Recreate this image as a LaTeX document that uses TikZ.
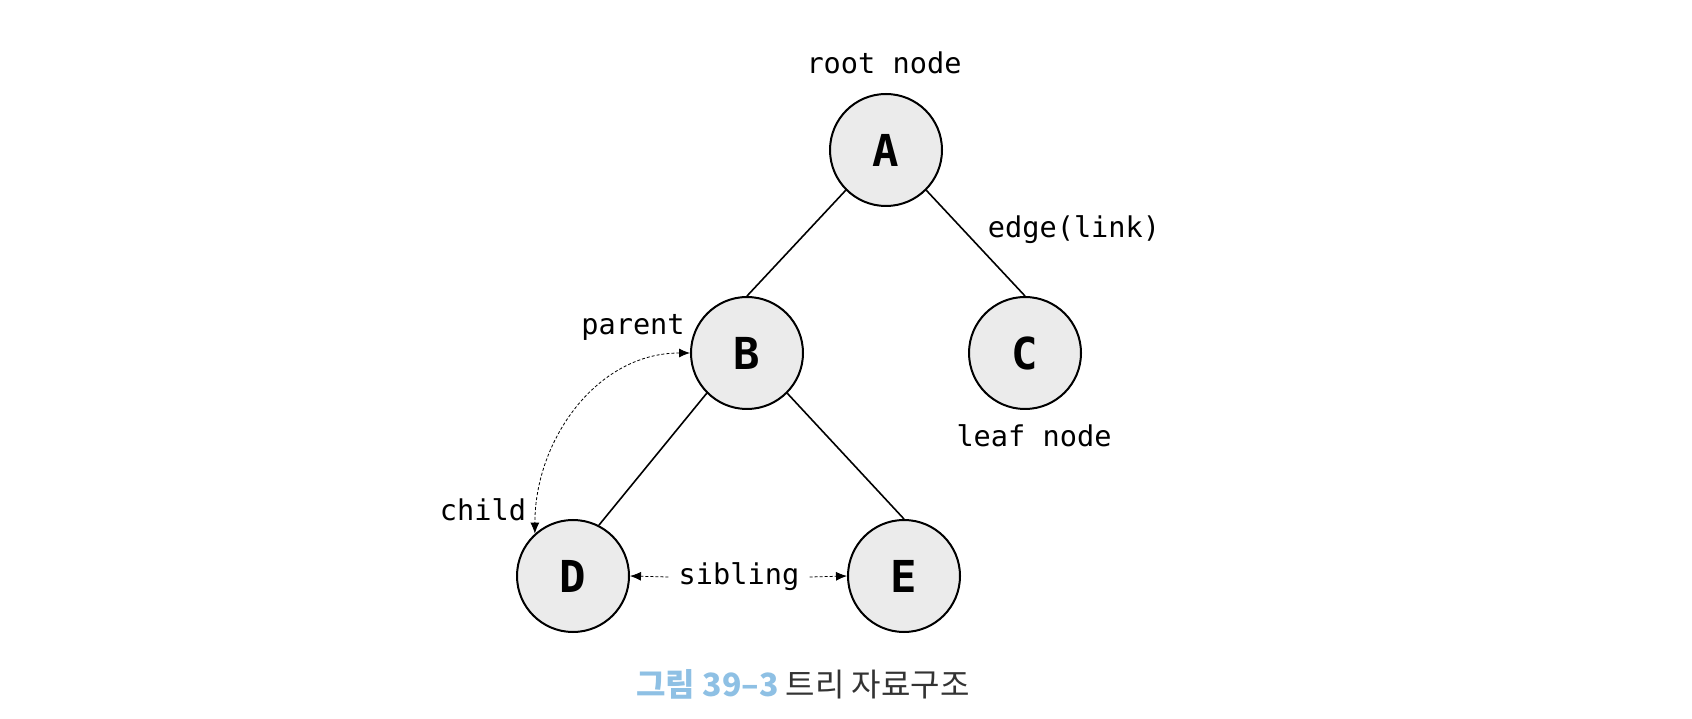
\documentclass[tikz,border=0pt]{standalone}
\usepackage{fontspec}
\setmonofont{DejaVu Sans Mono}
\newfontfamily\cjk{Noto Sans CJK KR}
\usepackage{tikz}
\usetikzlibrary{arrows.meta,positioning}
\definecolor{nodefill}{HTML}{EBEBEB}
\definecolor{capblue}{HTML}{8EC0E4}
\definecolor{capgray}{HTML}{333333}

\tikzset{
  treenode/.style={circle, draw, line width=1pt, fill=nodefill,
    minimum size=56pt, inner sep=0pt, font=\ttfamily\bfseries\fontsize{22}{22}\selectfont},
  tag/.style={inner sep=0pt, font=\ttfamily\fontsize{14.3}{16}\selectfont},
  link/.style={line width=0.8pt},
  rel/.style={line width=0.4pt, dash pattern=on 1.5pt off 1pt,
    {Latex[length=5.5pt,width=4.5pt]}-{Latex[length=5.5pt,width=4.5pt]}},
  relto/.style={line width=0.4pt, dash pattern=on 1.5pt off 1pt,
    -{Latex[length=5.5pt,width=4.5pt]}}
}

\begin{document}
\begin{tikzpicture}[x=0.5pt,y=0.5pt]
  \useasboundingbox (0,0) rectangle (1692,718);

  % tree nodes
  \node[treenode] (A) at (886,568) {A};
  \node[treenode] (B) at (747,365) {B};
  \node[treenode] (C) at (1025,365) {C};
  \node[treenode] (D) at (573,142) {D};
  \node[treenode] (E) at (904,142) {E};

  % edges
  \draw[link] (A.225) -- (B.north);
  \draw[link] (A.315) -- (C.north);
  \draw[link] (B.225) -- (D.63);
  \draw[link] (B.315) -- (E.north);

  % labels
  \node[tag] (rootlbl) at (884,655) {root node};
  \node[tag] (edgelbl) at (1074,488) {edge(link)};
  \node[tag] (parentlbl) at (633,391) {parent};
  \node[tag] (leaflbl) at (1034,282) {leaf node};
  \node[tag] (childlbl) at (483,208) {child};
  \node[tag, inner xsep=5pt] (sib) at (739,141) {sibling};

  % relations
  \draw[rel] (B.west) to[out=180,in=90] (D.132);
  \draw[relto] (sib.west) -- (D.east);
  \draw[relto] (sib.east) -- (E.west);

  % caption
  \node[inner sep=0pt, font=\cjk\fontsize{16}{18}\selectfont] (cap) at (803,34)
    {\textcolor{capblue}{\bfseries 그림 39–3}\ \textcolor{capgray}{트리 자료구조}};
\end{tikzpicture}
\end{document}
